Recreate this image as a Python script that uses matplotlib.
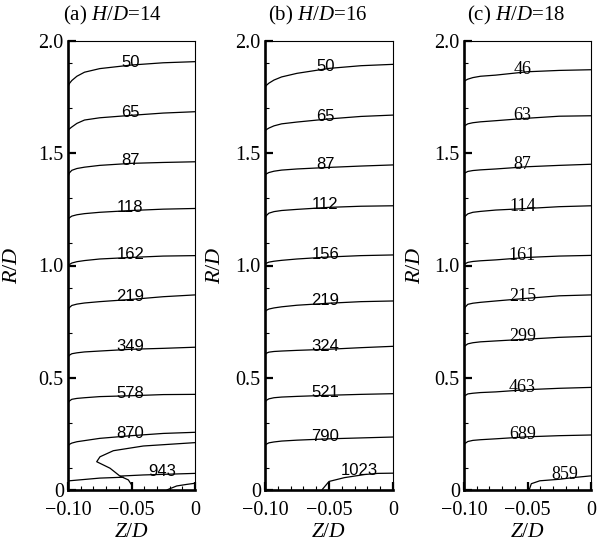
import numpy as np
import matplotlib
matplotlib.use("Agg")
import matplotlib.pyplot as plt

plt.rcParams['font.family'] = ['Liberation Serif', 'DejaVu Serif']
plt.rcParams['mathtext.fontset'] = 'custom'
plt.rcParams['mathtext.rm'] = 'Liberation Serif'
plt.rcParams['mathtext.it'] = 'Liberation Serif:italic'

# --- data ---
Z_GRID = [-0.100, -0.099, -0.097, -0.093, -0.087, -0.075, -0.050, -0.025, 0.000]

TITLES = ['(a) $H/D$=14', '(b) $H/D$=16', '(c) $H/D$=18']
X_TICKS = [-0.10, -0.05, 0.0]
X_TICK_LABELS = ['\u22120.10', '\u22120.05', '0']
Y_TICKS = [0.0, 0.5, 1.0, 1.5, 2.0]
Y_TICK_LABELS = ['0', '0.5', '1.0', '1.5', '2.0']

# panel (a) H/D=14
a_levels = [50, 65, 87, 118, 162, 219, 349, 578, 870]
a_r = [
    [1.796, 1.810, 1.824, 1.843, 1.861, 1.877, 1.893, 1.903, 1.908],
    [1.600, 1.608, 1.617, 1.633, 1.648, 1.658, 1.669, 1.679, 1.685],
    [1.395, 1.412, 1.424, 1.432, 1.438, 1.446, 1.455, 1.459, 1.462],
    [1.203, 1.212, 1.220, 1.226, 1.231, 1.237, 1.245, 1.251, 1.254],
    [0.995, 1.004, 1.011, 1.017, 1.022, 1.029, 1.036, 1.042, 1.044],
    [0.794, 0.812, 0.822, 0.828, 0.833, 0.839, 0.849, 0.861, 0.869],
    [0.591, 0.600, 0.607, 0.611, 0.615, 0.619, 0.627, 0.631, 0.636],
    [0.386, 0.396, 0.404, 0.408, 0.411, 0.416, 0.420, 0.425, 0.426],
    [0.195, 0.203, 0.209, 0.215, 0.220, 0.230, 0.242, 0.252, 0.257],
]
# near-wall contours of panel (a)
a_loop_z = [0.0, -0.0407, -0.0643, -0.0748, -0.0774, -0.0669, -0.0591, -0.0525, -0.0498, -0.0498]
a_loop_r = [0.211, 0.196, 0.175, 0.148, 0.126, 0.097, 0.062, 0.045, 0.022, 0.0]
a_943_z = [0.0, -0.0407, -0.0591]
a_943_r = [0.074, 0.067, 0.062]
a_low_z = [-0.100, -0.099, -0.075, -0.056]
a_low_r = [0.036, 0.041, 0.053, 0.057]
a_corner_z = [-0.0223, -0.0144, -0.0065, 0.0]
a_corner_r = [0.0, 0.018, 0.025, 0.030]

# panel (b) H/D=16
b_levels = [50, 65, 87, 112, 156, 219, 324, 521, 790]
b_r = [
    [1.794, 1.802, 1.812, 1.826, 1.840, 1.856, 1.878, 1.890, 1.896],
    [1.600, 1.605, 1.612, 1.622, 1.631, 1.639, 1.653, 1.664, 1.670],
    [1.400, 1.408, 1.414, 1.420, 1.425, 1.430, 1.437, 1.443, 1.448],
    [1.210, 1.222, 1.233, 1.240, 1.245, 1.250, 1.259, 1.264, 1.266],
    [1.005, 1.010, 1.015, 1.019, 1.023, 1.029, 1.038, 1.044, 1.047],
    [0.794, 0.800, 0.806, 0.811, 0.816, 0.823, 0.832, 0.839, 0.842],
    [0.601, 0.609, 0.614, 0.617, 0.619, 0.622, 0.627, 0.634, 0.640],
    [0.391, 0.399, 0.406, 0.411, 0.414, 0.417, 0.422, 0.426, 0.429],
    [0.197, 0.204, 0.210, 0.214, 0.218, 0.222, 0.228, 0.232, 0.236],
]
b_1023_z = [-0.0556, -0.050, -0.038, -0.022, -0.012, 0.0]
b_1023_r = [0.0, 0.038, 0.055, 0.069, 0.074, 0.075]

# panel (c) H/D=18
c_levels = [46, 63, 87, 114, 161, 215, 299, 463, 689]
c_r = [
    [1.819, 1.824, 1.830, 1.837, 1.843, 1.848, 1.863, 1.869, 1.872],
    [1.618, 1.624, 1.631, 1.636, 1.640, 1.645, 1.656, 1.665, 1.667],
    [1.408, 1.413, 1.419, 1.423, 1.426, 1.430, 1.440, 1.446, 1.451],
    [1.210, 1.220, 1.230, 1.237, 1.241, 1.247, 1.254, 1.262, 1.266],
    [1.002, 1.008, 1.014, 1.018, 1.021, 1.025, 1.036, 1.042, 1.045],
    [0.802, 0.815, 0.827, 0.832, 0.836, 0.842, 0.854, 0.865, 0.869],
    [0.636, 0.643, 0.651, 0.656, 0.660, 0.664, 0.672, 0.680, 0.685],
    [0.416, 0.421, 0.428, 0.431, 0.434, 0.437, 0.447, 0.453, 0.457],
    [0.200, 0.208, 0.216, 0.221, 0.224, 0.228, 0.237, 0.242, 0.245],
]
c_859_z = [-0.0487, -0.047, -0.0403, -0.0245, -0.0145, 0.0]
c_859_r = [0.0, 0.028, 0.041, 0.048, 0.055, 0.063]


LINE_KW = dict(color='black', lw=0.9, solid_capstyle='butt')
DROP = 0.008  # label baseline sits just under the line


def style_axes(ax, title, ylab_x, title_x):
    ax.set_xlim(-0.1, 0.0)
    ax.set_ylim(0.0, 2.0)
    ax.set_xticks(X_TICKS)
    ax.set_xticklabels(X_TICK_LABELS)
    ax.set_yticks(Y_TICKS)
    ax.set_yticklabels(Y_TICK_LABELS)
    ax.set_xticks(np.arange(-0.09, 0.0, 0.01), minor=True)
    ax.set_yticks([0.1, 0.3, 0.7, 0.9, 1.1, 1.3, 1.7, 1.9], minor=True)
    ax.tick_params(which='major', direction='in', length=5.5, width=1.6,
                   labelsize=14.5, top=False, right=False)
    ax.tick_params(which='minor', direction='in', length=3, width=0.8,
                   top=False, right=False)
    ax.tick_params(axis='y', which='major', pad=3)
    ax.tick_params(axis='x', which='major', pad=8)
    for side in ['left', 'bottom']:
        ax.spines[side].set_linewidth(1.9)
    for side in ['top', 'right']:
        ax.spines[side].set_linewidth(0.8)
    t = ax.set_title(title, loc='left', fontsize=15, pad=15)
    t.set_x(title_x)
    ax.set_xlabel('$Z/D$', fontsize=15.5)
    ax.set_ylabel('$R/D$', fontsize=16)
    ax.xaxis.set_label_coords(0.5, -0.074)
    ax.xaxis.label.set_va('top')
    ax.yaxis.set_label_coords(ylab_x, 0.5)


def draw_panel(ax, levels, rows, label_z, font, size):
    for lev, r in zip(levels, rows):
        ax.plot(Z_GRID, r, **LINE_KW)
        y = np.interp(label_z, Z_GRID, r)
        ax.text(label_z, y - DROP, str(lev), ha='center', va='baseline',
                family=font, fontsize=size)


fig = plt.figure(figsize=(5.98, 5.45), dpi=100)
ax_a = fig.add_axes([68 / 598, 55 / 545, 127 / 598, 449 / 545])
ax_b = fig.add_axes([265 / 598, 55 / 545, 128 / 598, 449 / 545])
ax_c = fig.add_axes([464 / 598, 55 / 545, 127 / 598, 449 / 545])

# (a)
draw_panel(ax_a, a_levels, a_r, -0.051, 'Liberation Sans', 12)
ax_a.plot(a_loop_z, a_loop_r, **LINE_KW)
ax_a.plot(a_943_z, a_943_r, **LINE_KW)
ax_a.plot(a_low_z, a_low_r, **LINE_KW)
ax_a.plot(a_corner_z, a_corner_r, **LINE_KW)
ax_a.text(-0.026, np.interp(-0.026, a_943_z[::-1], a_943_r[::-1]) - DROP, '943',
          ha='center', va='baseline', family='Liberation Sans', fontsize=12)
style_axes(ax_a, TITLES[0], -0.36, -0.04)

# (b)
draw_panel(ax_b, b_levels, b_r, -0.053, 'Liberation Sans', 12)
ax_b.plot(b_1023_z, b_1023_r, **LINE_KW)
ax_b.text(-0.026, 0.066, '1023', ha='center', va='baseline',
          family='Liberation Sans', fontsize=12)
style_axes(ax_b, TITLES[1], -0.31, 0.02)

# (c)
draw_panel(ax_c, c_levels, c_r, -0.054, 'Liberation Serif', 13)
ax_c.plot(c_859_z, c_859_r, **LINE_KW)
ax_c.text(-0.0205, 0.048, '859', ha='center', va='baseline',
          family='Liberation Serif', fontsize=13)
style_axes(ax_c, TITLES[2], -0.305, 0.02)

fig.savefig('out.png', dpi=100)
